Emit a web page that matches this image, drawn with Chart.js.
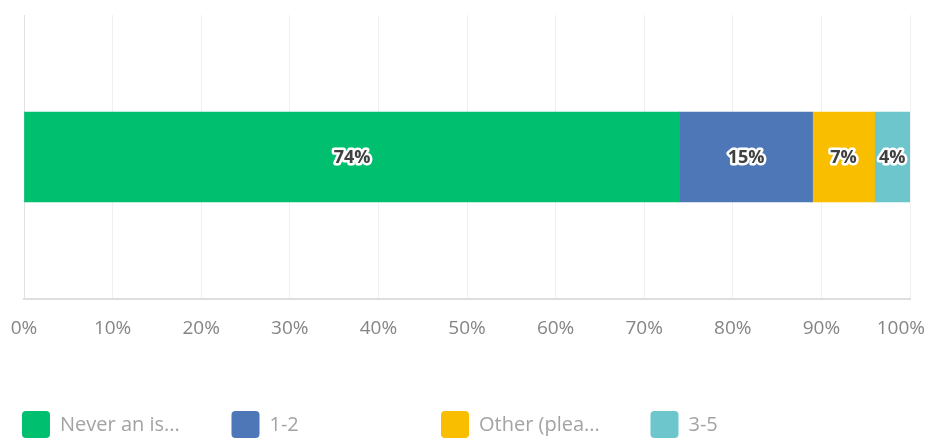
<!DOCTYPE html>
<html>
<head>
<meta charset="utf-8">
<script src="https://cdn.jsdelivr.net/npm/chart.js@4/dist/chart.umd.min.js"></script>
<style>
  html, body { margin: 0; padding: 0; background: #ffffff; }
  #wrap { position: relative; width: 929px; height: 441px; }
</style>
</head>
<body>
<div id="wrap"><canvas id="c" width="929" height="441"></canvas></div>
<script>
// Answer shares, one stacked horizontal bar
const categories = [''];
const seriesNames = ['Never an is...', '1-2', 'Other (plea...', '3-5'];
const seriesValues = [74, 15, 7, 4];
const seriesColors = ['#00bf6f', '#4d77b6', '#f9be00', '#6cc6cc'];
const tickValues = [0, 10, 20, 30, 40, 50, 60, 70, 80, 90, 100];
const tickLabels = ['0%', '10%', '20%', '30%', '40%', '50%', '60%', '70%', '80%', '90%', '100%'];

const datasets = seriesNames.map((name, i) => ({
  label: name,
  data: [seriesValues[i]],
  backgroundColor: seriesColors[i],
  borderWidth: 0,
  barThickness: 90
}));

// Percent labels with a white halo, centred in each segment
const valueLabels = {
  id: 'valueLabels',
  afterDatasetsDraw(chart) {
    const ctx = chart.ctx;
    ctx.save();
    ctx.font = 'bold 18px "Open Sans", sans-serif';
    ctx.textAlign = 'center';
    ctx.textBaseline = 'middle';
    ctx.lineJoin = 'round';
    chart.data.datasets.forEach((ds, i) => {
      chart.getDatasetMeta(i).data.forEach((bar, j) => {
        const p = bar.getProps(['x', 'y', 'base'], true);
        const cx = (p.x + p.base) / 2;
        const txt = ds.data[j] + '%';
        ctx.strokeStyle = '#ffffff';
        ctx.lineWidth = 5;
        ctx.strokeText(txt, cx, p.y + 1);
        ctx.fillStyle = '#404040';
        ctx.fillText(txt, cx, p.y + 1);
      });
    });
    ctx.restore();
  }
};

// Axis tick text, kept inside the canvas at the right edge
const axisText = {
  id: 'axisText',
  afterDraw(chart) {
    const ctx = chart.ctx;
    const sx = chart.scales.x;
    ctx.save();
    ctx.font = '19px "Open Sans", sans-serif';
    ctx.fillStyle = '#858585';
    ctx.textBaseline = 'middle';
    ctx.textAlign = 'center';
    tickValues.forEach((v, i) => {
      const t = tickLabels[i];
      const w = ctx.measureText(t).width;
      let x = sx.getPixelForValue(v);
      x = Math.min(x, chart.width - 4 - w / 2);
      x = Math.max(x, 6 + w / 2);
      ctx.fillText(t, x, 329);
    });
    ctx.restore();
  }
};

// Legend laid out in fixed-width columns
const columnLegend = {
  id: 'columnLegend',
  afterDraw(chart) {
    const ctx = chart.ctx;
    ctx.save();
    ctx.font = '20px "Open Sans", sans-serif';
    ctx.textBaseline = 'middle';
    ctx.textAlign = 'left';
    chart.data.datasets.forEach((ds, i) => {
      const x = 22 + i * 209.5;
      const y = 411;
      ctx.fillStyle = ds.backgroundColor;
      ctx.beginPath();
      ctx.roundRect(x, y, 28, 27, 4);
      ctx.fill();
      ctx.fillStyle = '#a3a3a3';
      ctx.fillText(ds.label, x + 38, y + 14);
    });
    ctx.restore();
  }
};

new Chart(document.getElementById('c'), {
  type: 'bar',
  data: { labels: categories, datasets },
  options: {
    indexAxis: 'y',
    responsive: false,
    animation: false,
    layout: { padding: { left: 24, right: 19, top: 15, bottom: 142 } },
    plugins: { legend: { display: false }, tooltip: { enabled: false } },
    scales: {
      x: {
        stacked: true,
        min: 0,
        max: 100,
        ticks: { display: false, stepSize: 10 },
        grid: {
          drawTicks: false,
          color: (c) => c.index === 0 ? '#e2e2e2' : '#f0f0f0',
          lineWidth: 1
        },
        border: { display: true, color: '#dedede', width: 2 }
      },
      y: {
        stacked: true,
        display: false
      }
    }
  },
  plugins: [valueLabels, axisText, columnLegend]
});
</script>
</body>
</html>
